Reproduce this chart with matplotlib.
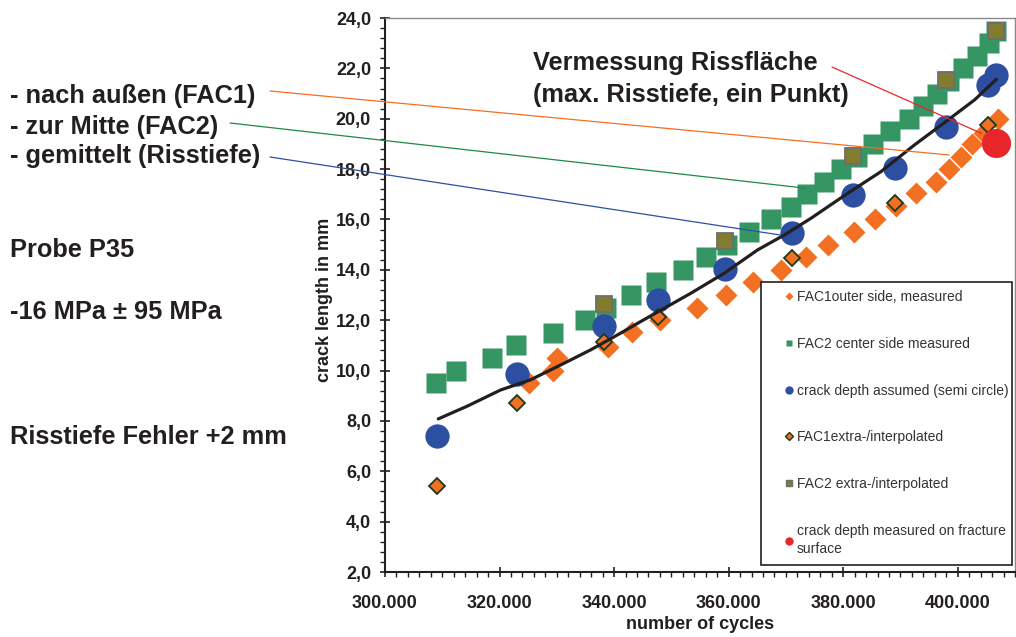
import matplotlib
matplotlib.use('Agg')
import matplotlib.pyplot as plt
from matplotlib.lines import Line2D
from matplotlib.patches import Rectangle, ConnectionPatch
from matplotlib.ticker import MultipleLocator, FuncFormatter

plt.rcParams['font.family'] = ['Liberation Sans', 'DejaVu Sans']

# ---------------- data ----------------
fac1_cycles = [325200, 329400, 330100, 338850, 343200, 348100, 354550, 359500, 364200,
               369100, 373500, 377300, 381950, 385500, 389250, 392750, 396250, 398400,
               400600, 402500, 404600, 407000]
fac1_mm = [9.5, 10.0, 10.5, 10.95, 11.55, 12.0, 12.5, 13.0, 13.5, 14.0, 14.5, 15.0, 15.5,
           16.0, 16.55, 17.05, 17.5, 18.0, 18.5, 19.0, 19.45, 20.0]

fac2_cycles = [308900, 312400, 318600, 322900, 329400, 335000, 338500, 342900, 347400,
               352000, 356000, 359700, 363500, 367400, 370900, 373700, 376700, 379600,
               382400, 385200, 388200, 391500, 393900, 396400, 398500, 401000, 403300,
               405500, 406700]
fac2_mm = [9.5, 10.0, 10.5, 11.0, 11.5, 12.0, 12.5, 13.0, 13.5, 14.0, 14.5, 15.0, 15.5,
           16.0, 16.5, 17.0, 17.5, 18.0, 18.5, 19.0, 19.5, 20.0, 20.5, 21.0, 21.5, 22.0,
           22.5, 23.0, 23.5]

depth_cycles = [309000, 323000, 338300, 347600, 359400, 371000, 381800, 389100, 398000,
                405200, 406750]
depth_mm = [7.40, 9.85, 11.78, 12.80, 14.03, 15.45, 16.97, 18.03, 19.68, 21.34, 21.74]

fac1_ip_cycles = [309000, 323000, 338300, 347600, 371000, 389100, 405200]
fac1_ip_mm = [5.43, 8.72, 11.15, 12.14, 14.46, 16.67, 19.75]

fac2_ip_cycles = [338300, 359400, 381800, 398000, 406750]
fac2_ip_mm = [12.64, 15.15, 18.52, 21.54, 23.48]

measured_cycles = [406750]
measured_mm = [19.05]

trend_cycles = [309300, 314400, 320200, 325400, 331800, 335900, 341100, 344600, 353400,
                359200, 365050, 369700, 374400, 380800, 386600, 392450, 398300, 402950,
                406750]
trend_mm = [8.08, 8.59, 9.23, 9.63, 10.35, 10.82, 11.48, 11.94, 13.07, 13.86, 14.79, 15.38,
            16.05, 17.04, 17.90, 18.96, 19.95, 20.75, 21.57]

legend_labels = ["FAC1outer side, measured", "FAC2 center side measured",
                 "crack depth assumed (semi circle)", "FAC1extra-/interpolated",
                 "FAC2 extra-/interpolated", "crack depth measured on fracture\nsurface"]

# ---------------- style ----------------
C_OR = '#f36f21'
C_GR = '#359664'
C_BL = '#2d4fa1'
C_RD = '#e8262a'
C_OL = '#827c2f'
C_TX = '#231f20'

W, H = 1016, 637
fig = plt.figure(figsize=(W / 100, H / 100), dpi=100)
ax = fig.add_axes([385 / W, 1 - 572 / H, 630 / W, 554 / H])

ax.plot(fac1_cycles, fac1_mm, ls='none', marker='D', ms=11.7, mfc=C_OR, mec='none', zorder=3)
ax.plot(fac2_cycles, fac2_mm, ls='none', marker='s', ms=14.4, mfc=C_GR, mec='none', zorder=3)
ax.plot(depth_cycles, depth_mm, ls='none', marker='o', ms=17.5, mfc=C_BL, mec='none', zorder=4)
ax.plot(fac1_ip_cycles, fac1_ip_mm, ls='none', marker='D', ms=8.5, mfc=C_OR, mec='#1c3a1c',
        mew=1.3, zorder=5)
ax.plot(fac2_ip_cycles, fac2_ip_mm, ls='none', marker='s', ms=11.2, mfc=C_OL, mec='#6e6e6e',
        mew=1.3, zorder=5)
ax.plot(measured_cycles, measured_mm, ls='none', marker='o', ms=21, mfc=C_RD, mec='none', zorder=6)
ax.plot(trend_cycles, trend_mm, color=C_TX, lw=2.3, zorder=7, solid_capstyle='round')

ax.set_xlim(300000, 410000)
ax.set_ylim(2, 24)

ax.xaxis.set_major_locator(MultipleLocator(20000))
ax.xaxis.set_minor_locator(MultipleLocator(2000))
ax.yaxis.set_major_locator(MultipleLocator(2))
ax.yaxis.set_minor_locator(MultipleLocator(0.4))
ax.xaxis.set_major_formatter(FuncFormatter(lambda v, p: f"{int(round(v)):,}".replace(',', '.')))
ax.yaxis.set_major_formatter(FuncFormatter(lambda v, p: f"{v:.1f}".replace('.', ',')))

for s in ['left', 'bottom']:
    ax.spines[s].set_color(C_TX)
    ax.spines[s].set_linewidth(1.5)
for s in ['top', 'right']:
    ax.spines[s].set_color('#8a8a8a')
    ax.spines[s].set_linewidth(1.0)

ax.tick_params(axis='both', which='major', direction='inout', length=7, width=1.2,
               color=C_TX, labelcolor=C_TX, labelsize=13)
ax.tick_params(axis='y', which='major', pad=6.5)
ax.tick_params(axis='x', which='major', pad=13)
ax.tick_params(axis='both', which='minor', direction='out', length=3.5, width=1.0, color=C_TX)
plt.setp(ax.get_xticklabels(), fontweight='bold')
plt.setp(ax.get_yticklabels(), fontweight='bold')

ax.set_xlabel('number of cycles', fontsize=13, fontweight='bold', color=C_TX)
ax.set_ylabel('crack length in mm', fontsize=13, fontweight='bold', color=C_TX)
ax.xaxis.set_label_coords(0.5, (572 - 616) / 554)
ax.yaxis.set_label_coords((333 - 385) / 630, (572 - 300) / 554)

# legend frame + entries
frame = Rectangle(((761 - 385) / 630, (572 - 565) / 554), (1012 - 761) / 630, (565 - 282) / 554,
                  transform=ax.transAxes, facecolor='white', edgecolor=C_TX, lw=1.2, zorder=8)
ax.add_patch(frame)
handles = [
    Line2D([], [], ls='none', marker='D', ms=4.2, mfc=C_OR, mec='none'),
    Line2D([], [], ls='none', marker='s', ms=5, mfc=C_GR, mec='none'),
    Line2D([], [], ls='none', marker='o', ms=6, mfc=C_BL, mec='none'),
    Line2D([], [], ls='none', marker='D', ms=4.2, mfc=C_OR, mec='#1c3a1c', mew=1.0),
    Line2D([], [], ls='none', marker='s', ms=5, mfc=C_OL, mec='#6e6e6e', mew=1.0),
    Line2D([], [], ls='none', marker='o', ms=6, mfc=C_RD, mec='none'),
]
leg = ax.legend(handles, legend_labels, loc='upper left',
                bbox_to_anchor=((783.4 - 385) / 630, (572 - 290) / 554),
                frameon=False, fontsize=10, borderpad=0, borderaxespad=0,
                handlelength=0.8, handletextpad=0.18, labelspacing=2.36)
leg.set_zorder(9)
for t in leg.get_texts():
    t.set_color('#333333')
leg.get_texts()[-1].set_linespacing(1.4)

# annotation texts
def fx(px):
    return px / W

def fy(py):
    return 1 - py / H

txt_kw = dict(fontsize=18.3, fontweight='bold', color=C_TX, ha='left', va='baseline')
fig.text(fx(10), fy(103), '- nach außen (FAC1)', **txt_kw)
fig.text(fx(10), fy(134), '- zur Mitte (FAC2)', **txt_kw)
fig.text(fx(10), fy(163), '- gemittelt (Risstiefe)', **txt_kw)
fig.text(fx(10), fy(257), 'Probe P35', **txt_kw)
fig.text(fx(10), fy(319), '-16 MPa ± 95 MPa', **txt_kw)
fig.text(fx(10), fy(444), 'Risstiefe Fehler +2 mm', **txt_kw)
fig.text(fx(533), fy(70), 'Vermessung Rissfläche', **txt_kw)
fig.text(fx(533), fy(102), '(max. Risstiefe, ein Punkt)', **txt_kw)

# connector lines
def connector(start_px, end_data, color):
    con = ConnectionPatch(xyA=(fx(start_px[0]), fy(start_px[1])), coordsA=fig.transFigure,
                          xyB=end_data, coordsB=ax.transData, color=color, lw=0.9, zorder=10)
    fig.add_artist(con)

connector((270, 91), (398500, 18.56), C_OR)
connector((230, 123), (373500, 17.24), '#1e8a46')
connector((270, 157), (369100, 15.38), C_BL)
connector((832, 67), (404125, 19.42), C_RD)

fig.savefig('out.png', dpi=100)
